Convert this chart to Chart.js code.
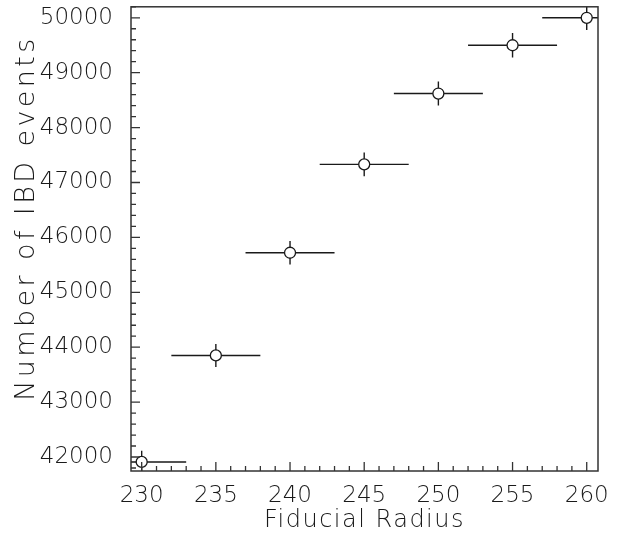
<!DOCTYPE html>
<html>
<head>
<meta charset="utf-8">
<script src="https://cdn.jsdelivr.net/npm/chart.js@4.4.0/dist/chart.umd.min.js"></script>
<style>
html, body { margin: 0; padding: 0; background: #fff; }
#wrap { width: 621px; height: 535px; }
</style>
</head>
<body>
<div id="wrap"><canvas id="ibdChart" width="621" height="535"></canvas></div>
<script>
// data
let radius = [230, 235, 240, 245, 250, 255, 260];
let ibd_events = [41910, 43850, 45720, 47330, 48620, 49500, 50000];
let radius_err = [3, 3, 3, 3, 3, 3, 3];
let events_err = [205, 209, 214, 218, 220, 222, 224];
let x_ticks = [230, 235, 240, 245, 250, 255, 260];
let y_ticks = [42000, 43000, 44000, 45000, 46000, 47000, 48000, 49000, 50000];
let x_title = "Fiducial Radius";
let y_title = "Number of IBD events";

let fontName = "'DejaVu Sans', sans-serif";
let inkColor = '#1a1a1a';

let points = [];
for (x in radius) {
    points.push({x: radius[x], y: ibd_events[x]});
}

// error bars, inside ticks, frame and axis titles
const rootStyle = {
    id: 'rootStyle',
    beforeDatasetsDraw(chart) {
        let ctx = chart.ctx;
        let area = chart.chartArea;
        let xs = chart.scales.x;
        let ys = chart.scales.y;
        ctx.save();
        ctx.beginPath();
        ctx.rect(area.left, area.top, area.right - area.left, area.bottom - area.top);
        ctx.clip();
        ctx.strokeStyle = inkColor;
        ctx.lineWidth = 1.4;
        for (let i = 0; i < radius.length; i++) {
            let px = xs.getPixelForValue(radius[i]);
            let py = ys.getPixelForValue(ibd_events[i]);
            ctx.beginPath();
            ctx.moveTo(xs.getPixelForValue(radius[i] - radius_err[i]), py);
            ctx.lineTo(xs.getPixelForValue(radius[i] + radius_err[i]), py);
            ctx.moveTo(px, ys.getPixelForValue(ibd_events[i] - events_err[i]));
            ctx.lineTo(px, ys.getPixelForValue(ibd_events[i] + events_err[i]));
            ctx.stroke();
        }
        ctx.restore();
    },
    afterDraw(chart) {
        let ctx = chart.ctx;
        let area = chart.chartArea;
        let xs = chart.scales.x;
        let ys = chart.scales.y;
        ctx.save();
        ctx.strokeStyle = '#333';
        ctx.lineWidth = 1.5;
        ctx.strokeRect(area.left, area.top, area.right - area.left, area.bottom - area.top);

        ctx.lineWidth = 1.3;
        ctx.beginPath();
        for (let v = Math.ceil(xs.min); v <= xs.max; v += 1) {
            let len = x_ticks.includes(v) ? 9 : 5;
            let p = xs.getPixelForValue(v);
            ctx.moveTo(p, area.bottom);
            ctx.lineTo(p, area.bottom - len);
        }
        for (let v = Math.ceil(ys.min / 200) * 200; v <= ys.max; v += 200) {
            let len = y_ticks.includes(v) ? 9 : 5;
            let p = ys.getPixelForValue(v);
            ctx.moveTo(area.left, p);
            ctx.lineTo(area.left + len, p);
        }
        ctx.stroke();

        ctx.fillStyle = inkColor;
        ctx.font = '200 24px ' + fontName;
        ctx.letterSpacing = '1.5px';
        ctx.textAlign = 'center';
        ctx.textBaseline = 'alphabetic';
        ctx.fillText(x_title, (area.left + area.right) / 2, 527);

        ctx.font = '200 27px ' + fontName;
        ctx.letterSpacing = '3.4px';
        ctx.translate(34, 218);
        ctx.rotate(-Math.PI / 2);
        ctx.fillText(y_title, 0, 0);
        ctx.restore();
    }
};

let tickFont = {family: fontName, size: 23, weight: 200};
let plainLabel = v => String(v);

let ctx1 = document.getElementById('ibdChart');
let ibdChart = new Chart(ctx1, {
    type: 'scatter',
    data: {
        datasets: [{
            data: points,
            pointRadius: 5.5,
            pointBackgroundColor: '#fff',
            pointBorderColor: inkColor,
            pointBorderWidth: 1.3,
            showLine: false
        }]
    },
    options: {
        responsive: false,
        animation: false,
        layout: {padding: {top: 5, right: 23, left: 0, bottom: 0}},
        plugins: {
            legend: {display: false},
            tooltip: {enabled: false}
        },
        scales: {
            x: {
                type: 'linear',
                min: 229.28,
                max: 260.76,
                grid: {display: false, drawTicks: false},
                border: {display: false},
                ticks: {font: tickFont, color: inkColor, padding: 11, maxRotation: 0, autoSkip: false, callback: plainLabel},
                afterBuildTicks: s => { s.ticks = x_ticks.map(v => ({value: v})); },
                afterFit: s => { s.height = 64; s.paddingLeft = 0; s.paddingRight = 0; }
            },
            y: {
                type: 'linear',
                min: 41745,
                max: 50200,
                grid: {display: false, drawTicks: false},
                border: {display: false},
                ticks: {font: tickFont, color: inkColor, padding: 18, autoSkip: false, callback: plainLabel},
                afterBuildTicks: s => { s.ticks = y_ticks.map(v => ({value: v})); },
                afterFit: s => { s.width = 131; s.paddingTop = 0; s.paddingBottom = 0; }
            }
        }
    },
    plugins: [rootStyle]
});
</script>
</body>
</html>
